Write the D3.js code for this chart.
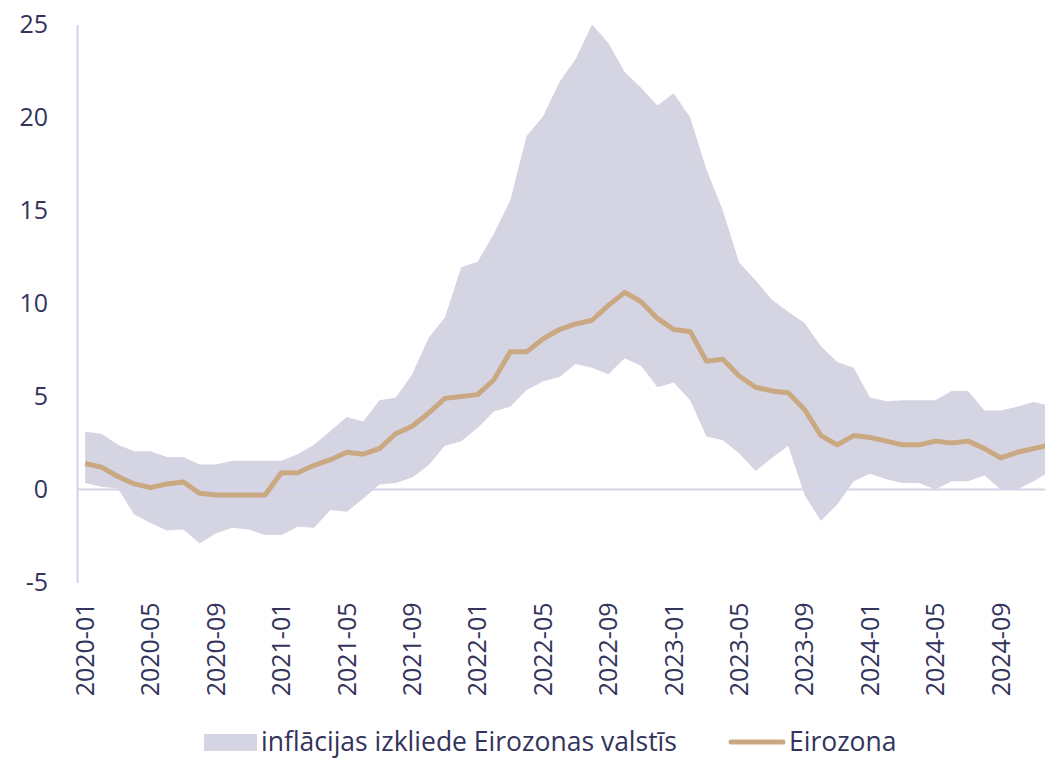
<!DOCTYPE html>
<html>
  <head>
    <meta charset="utf-8">
    <title>inflācijas izkliede</title>
    <style>
      body { margin: 0; background: #fff; }
      text { font-family: "Open Sans", sans-serif; fill: #33335b; }
    </style>
  </head>
  <body>
    <div id="container"></div>
    <script src="https://cdn.jsdelivr.net/npm/d3@7"></script>
    <script>
      // months 2020-01 .. 2024-12
      var years = [2020, 2021, 2022, 2023, 2024];
      var months = [];
      years.forEach(function(yr) {
        for (var m = 1; m <= 12; m++) months.push(yr + "-" + (m < 10 ? "0" + m : m));
      });

      // euro area HICP, % y/y
      var eirozona = [
        1.4, 1.2, 0.7, 0.3, 0.1, 0.3, 0.4, -0.2, -0.3, -0.3, -0.3, -0.3,
        0.9, 0.9, 1.3, 1.6, 2.0, 1.9, 2.2, 3.0, 3.4, 4.1, 4.9, 5.0,
        5.1, 5.9, 7.4, 7.4, 8.1, 8.6, 8.9, 9.1, 9.9, 10.6, 10.1, 9.2,
        8.6, 8.5, 6.9, 7.0, 6.1, 5.5, 5.3, 5.2, 4.3, 2.9, 2.4, 2.9,
        2.8, 2.6, 2.4, 2.4, 2.6, 2.5, 2.6, 2.2, 1.7, 2.0, 2.2, 2.4
      ];
      // max among euro area countries
      var augsa = [
        3.1, 3.0, 2.4, 2.05, 2.05, 1.75, 1.75, 1.35, 1.35, 1.55, 1.55, 1.55,
        1.55, 1.9, 2.4, 3.15, 3.9, 3.65, 4.8, 4.95, 6.2, 8.15, 9.25, 11.95,
        12.25, 13.75, 15.55, 19.0, 20.05, 21.9, 23.15, 25.0, 24.0, 22.45, 21.6, 20.65,
        21.3, 20.0, 17.2, 15.0, 12.2, 11.25, 10.2, 9.55, 8.95, 7.7, 6.85, 6.55,
        4.95, 4.75, 4.8, 4.8, 4.8, 5.3, 5.3, 4.25, 4.25, 4.45, 4.7, 4.5
      ];
      // min among euro area countries
      var apaksa = [
        0.35, 0.15, 0.05, -1.35, -1.8, -2.2, -2.15, -2.9, -2.35, -2.05, -2.15, -2.45,
        -2.45, -2.0, -2.05, -1.1, -1.2, -0.5, 0.27, 0.35, 0.65, 1.3, 2.35, 2.6,
        3.3, 4.2, 4.45, 5.35, 5.8, 6.05, 6.75, 6.55, 6.2, 7.05, 6.65, 5.5,
        5.75, 4.8, 2.85, 2.65, 1.95, 1.0, 1.7, 2.35, -0.3, -1.7, -0.8, 0.45,
        0.85, 0.55, 0.35, 0.35, 0.0, 0.45, 0.45, 0.75, 0.0, 0.0, 0.45, 0.95
      ];
      var yTicks = [-5, 0, 5, 10, 15, 20, 25];
      var xTicks = months.filter(function(d, i) { return i % 4 == 0; });
      var legendLabels = ["inflācijas izkliede Eirozonas valstīs", "Eirozona"];

      var width = 1045, height = 759;
      var bandColor = "#d4d4e3", lineColor = "#caa982", axisColor = "#d3d3ea";

      var data = months.map(function(m, i) {
        return {m: m, v: eirozona[i], lo: apaksa[i], hi: augsa[i]};
      });

      var x = d3.scaleBand().domain(months).range([77, 77 + 60 * 16.35]).padding(0);
      var y = d3.scaleLinear().domain([-5, 25]).range([582.5, 24.5]);
      var xc = function(d) { return x(d.m) + x.bandwidth() / 2; };

      var svg = d3.select("#container").append("svg")
        .attr("width", width)
        .attr("height", height)
        .style("display", "block");

      // y axis (plain hyphen for negatives, like the original)
      var yAxis = svg.append("g")
        .attr("transform", "translate(77,0)")
        .call(d3.axisLeft(y).tickValues(yTicks).tickFormat(function(d) { return String(d); })
          .tickSize(0).tickSizeOuter(0).tickPadding(29));
      yAxis.select(".domain").attr("stroke", axisColor).attr("stroke-width", 2);
      yAxis.selectAll("text")
        .style("font-family", "'Open Sans', sans-serif")
        .style("font-size", "25px")
        .attr("fill", "#33335b");

      // x axis labels at the bottom
      var xAxis = svg.append("g")
        .attr("transform", "translate(0,582.5)")
        .call(d3.axisBottom(x).tickValues(xTicks).tickSize(0).tickSizeOuter(0));
      xAxis.select(".domain").remove();
      xAxis.selectAll("text")
        .style("font-family", "'Open Sans', sans-serif")
        .style("font-size", "25px")
        .attr("fill", "#33335b")
        .attr("text-anchor", "end")
        .attr("transform", "rotate(-90)")
        .attr("x", -20)
        .attr("y", 0)
        .attr("dy", "0.35em");

      // dispersion band
      var area = d3.area()
        .x(xc)
        .y0(function(d) { return y(d.lo); })
        .y1(function(d) { return y(d.hi); });
      svg.append("path")
        .datum(data)
        .attr("d", area)
        .attr("fill", bandColor);

      // zero line
      svg.append("line")
        .attr("x1", 77).attr("x2", width)
        .attr("y1", y(0)).attr("y2", y(0))
        .attr("stroke", axisColor)
        .attr("stroke-width", 2);

      // euro area line
      var line = d3.line()
        .x(xc)
        .y(function(d) { return y(d.v); });
      svg.append("path")
        .datum(data)
        .attr("d", line)
        .attr("fill", "none")
        .attr("stroke", lineColor)
        .attr("stroke-width", 5)
        .attr("stroke-linejoin", "round");

      // legend
      var leg = svg.append("g").attr("transform", "translate(0,742)");
      leg.append("rect")
        .attr("x", 204).attr("y", -8)
        .attr("width", 53).attr("height", 17)
        .attr("fill", bandColor);
      leg.append("text")
        .attr("x", 261).attr("dy", "0.35em")
        .style("font-size", "26.5px")
        .text(legendLabels[0]);
      leg.append("line")
        .attr("x1", 731).attr("x2", 783)
        .attr("stroke", lineColor)
        .attr("stroke-width", 5)
        .attr("stroke-linecap", "round");
      leg.append("text")
        .attr("x", 789).attr("dy", "0.35em")
        .style("font-size", "26.5px")
        .text(legendLabels[1]);
    </script>
  </body>
</html>
